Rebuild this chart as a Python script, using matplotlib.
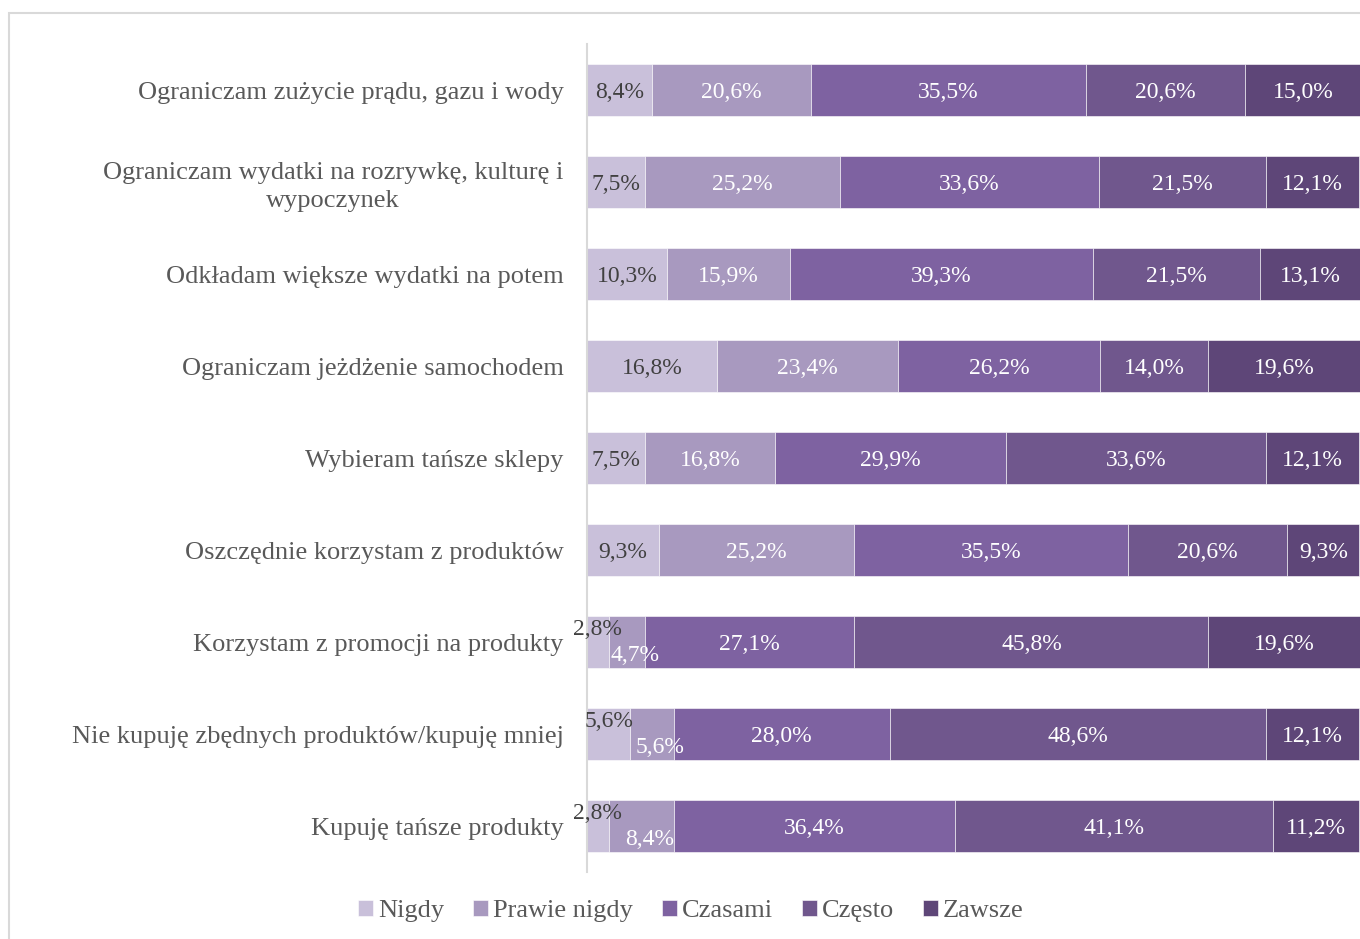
import numpy as np
import matplotlib
matplotlib.use("Agg")
import matplotlib.pyplot as plt
from matplotlib.patches import Rectangle

plt.rcParams['font.family'] = ['Liberation Serif', 'DejaVu Serif']

categories = [
    "Ograniczam zużycie prądu, gazu i wody",
    "Ograniczam wydatki na rozrywkę, kulturę i\nwypoczynek",
    "Odkładam większe wydatki na potem",
    "Ograniczam jeżdżenie samochodem",
    "Wybieram tańsze sklepy",
    "Oszczędnie korzystam z produktów",
    "Korzystam z promocji na produkty",
    "Nie kupuję zbędnych produktów/kupuję mniej",
    "Kupuję tańsze produkty",
]
series = ["Nigdy", "Prawie nigdy", "Czasami", "Często", "Zawsze"]
nigdy = [8.4, 7.5, 10.3, 16.8, 7.5, 9.3, 2.8, 5.6, 2.8]
prawie_nigdy = [20.6, 25.2, 15.9, 23.4, 16.8, 25.2, 4.7, 5.6, 8.4]
czasami = [35.5, 33.6, 39.3, 26.2, 29.9, 35.5, 27.1, 28.0, 36.4]
czesto = [20.6, 21.5, 21.5, 14.0, 33.6, 20.6, 45.8, 48.6, 41.1]
zawsze = [15.0, 12.1, 13.1, 19.6, 12.1, 9.3, 19.6, 12.1, 11.2]

colors = ["#c9c0da", "#a899bf", "#7e62a1", "#70578d", "#5e4678"]
text_colors = ["#404040", "white", "white", "white", "white"]

fig = plt.figure(figsize=(13.6, 9.39), dpi=100)
fig.patches.append(Rectangle((9 / 1360, -0.1), 1.2, 1 - 13 / 939 + 0.1,
                             transform=fig.transFigure, fill=False,
                             edgecolor="#d9d9d9", linewidth=1.5))
ax = fig.add_axes([587 / 1360, 1 - 872 / 939, 773 / 1360, (872 - 44) / 939])

values = np.array([nigdy, prawie_nigdy, czasami, czesto, zawsze])
y = np.arange(len(categories))
left = np.zeros(len(categories))
for i, name in enumerate(series):
    ax.barh(y, values[i], left=left, height=0.565, color=colors[i],
            edgecolor="white", linewidth=0.4, label=name)
    for j, v in enumerate(values[i]):
        cx = left[j] + v / 2
        label = f"{v:.1f}%".replace(".", ",")
        dx, dy = 0, -2
        # small segments: push the two labels apart like the original
        if i < 2 and values[0][j] < 6 and values[1][j] < 9:
            dx, dy = (0, 9) if i == 0 else (6, -10)
        ax.annotate(label, (cx, y[j]), xytext=(dx, dy), textcoords="offset points",
                    ha="center", va="center", fontsize=17, color=text_colors[i])
    left += values[i]

ax.set_xlim(0, 100)
ax.set_ylim(8.5, -0.5)
ax.set_yticks(y)
ax.set_yticklabels(categories, fontsize=19, color="#595959",
                   multialignment="center", linespacing=1.35)
ax.tick_params(axis="y", length=0, pad=17)
ax.set_xticks([])
for s in ["top", "right", "bottom"]:
    ax.spines[s].set_visible(False)
ax.spines["left"].set_color("#d9d9d9")
ax.spines["left"].set_linewidth(1.5)

handles, labels = ax.get_legend_handles_labels()
fig.legend(handles, labels, loc="center", bbox_to_anchor=(691 / 1360, 1 - 911 / 939),
           ncol=5, frameon=False, fontsize=19, handlelength=0.55, handleheight=0.55,
           handletextpad=0.2, columnspacing=1.1, labelcolor="#595959")

fig.savefig("out.png", dpi=100)
